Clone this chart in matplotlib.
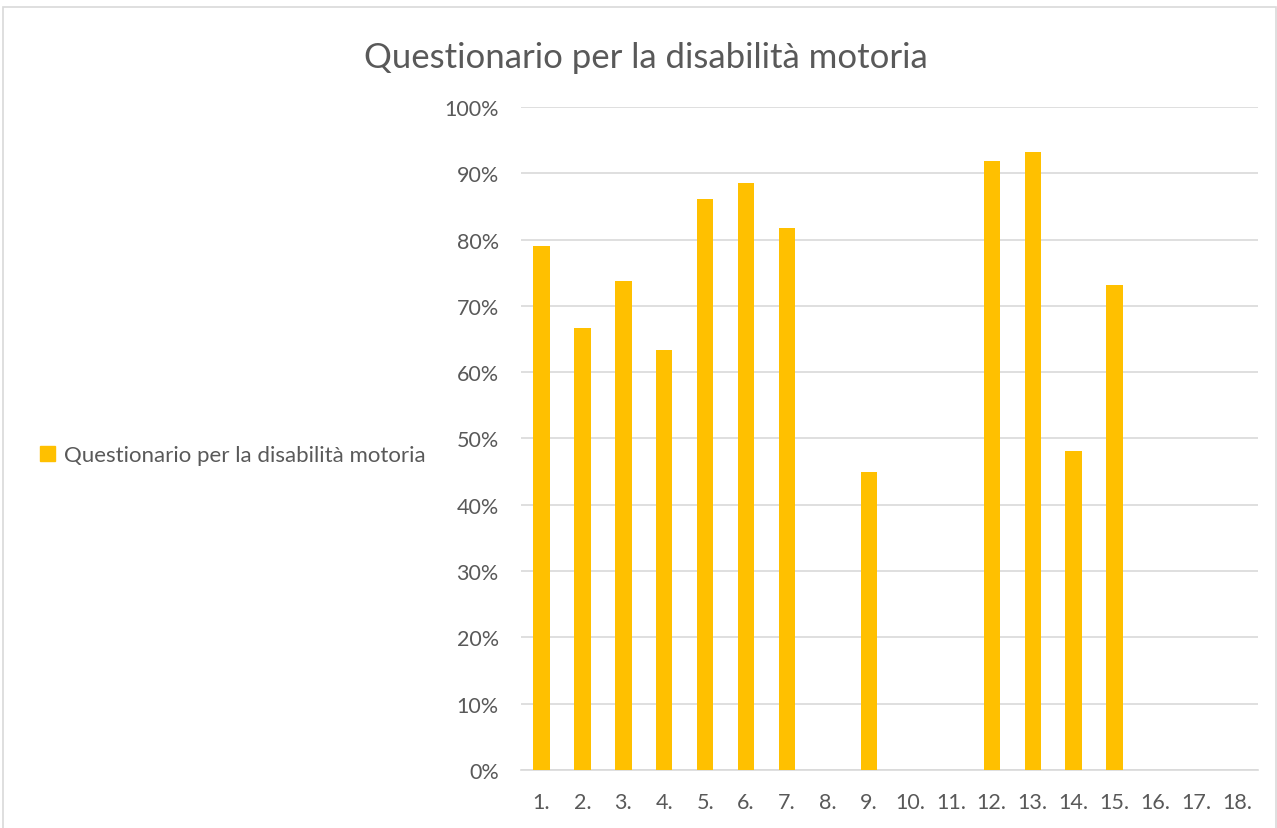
import numpy as np
import matplotlib.pyplot as plt
from matplotlib.patches import Rectangle

# Questionario per la disabilità motoria
categories = [f"{i}." for i in range(1, 19)]
values = [79.0, 66.7, 73.8, 63.3, 86.1, 88.5, 81.7, 0, 44.9, 0, 0,
          91.9, 93.2, 48.1, 73.2, 0, 0, 0]
yticks = [0, 10, 20, 30, 40, 50, 60, 70, 80, 90, 100]
series_name = "Questionario per la disabilità motoria"

plt.rcParams['font.family'] = ['Lato', 'DejaVu Sans']
txt = '#595959'

fig = plt.figure(figsize=(12.77, 8.29), dpi=100)
# chart border
fig.patches.append(Rectangle((0.002, -0.01), 0.997, 1.0, transform=fig.transFigure,
                             fill=False, edgecolor='#D9D9D9', linewidth=1.2))

ax = fig.add_axes([0.408, 0.070, 0.577, 0.7997])
x = np.arange(len(categories))
ax.bar(x, values, width=0.4, color='#FFC000', zorder=3, label=series_name)
ax.set_xlim(-0.5, len(categories) - 0.5)
ax.set_ylim(0, 100)
ax.set_yticks(yticks)
ax.set_yticklabels([f"{v}%" for v in yticks])
ax.set_xticks(x)
ax.set_xticklabels(categories)
ax.grid(axis='y', color='#D9D9D9', linewidth=1.2, zorder=0)
for s in ['top', 'right', 'left']:
    ax.spines[s].set_visible(False)
ax.spines['bottom'].set_color('#D9D9D9')
ax.spines['bottom'].set_linewidth(1.2)
ax.tick_params(axis='both', length=0, labelsize=15.5, colors=txt)
ax.tick_params(axis='y', pad=16)
ax.tick_params(axis='x', pad=16)

fig.text(0.506, 0.930, series_name, ha='center', va='center', fontsize=25,
         color=txt)

fig.legend(handles=[Rectangle((0, 0), 1, 1, color='#FFC000')], labels=[series_name],
           loc='center left', bbox_to_anchor=(0.016, 0.45), frameon=False,
           fontsize=16, labelcolor=txt, handlelength=0.65, handleheight=0.65,
           handletextpad=0.4)

fig.savefig('out.png', dpi=100)
